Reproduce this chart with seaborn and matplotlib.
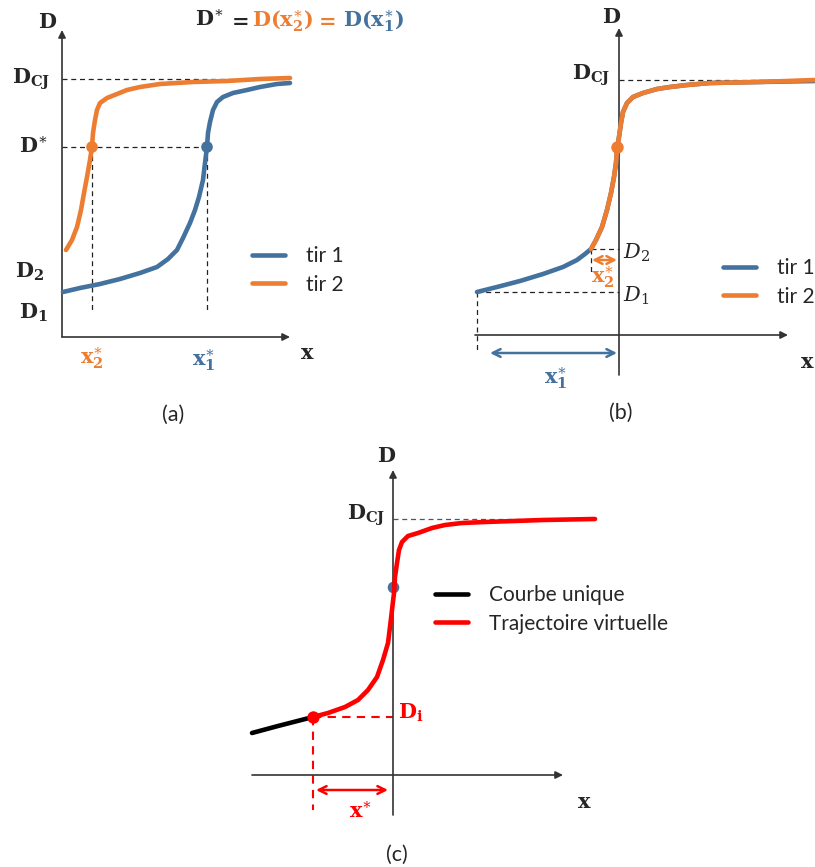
import matplotlib
matplotlib.use("Agg")
import matplotlib.pyplot as plt
from matplotlib.lines import Line2D
import seaborn as sns

sns.set_theme(style="white")
plt.rcParams["mathtext.fontset"] = "dejavuserif"
plt.rcParams["font.family"] = ["Lato", "DejaVu Sans"]

BLUE = "#44729F"
ORANGE = "#ED7D31"
RED = "#FF0000"
GUIDE = "#222222"

# ---- panel (a): two shots, x relative to the origin, D above the x axis
a_tir1_x = [1, 18, 38, 58, 78, 95, 106, 115, 121, 128, 133, 137, 141, 143, 145, 146, 148,
            151, 155, 161, 171, 185, 198, 215, 228]
a_tir1_d = [45, 49, 53, 58, 64, 70, 78, 87, 99, 114, 127, 140, 157, 174, 190, 204, 215,
            227, 235, 240, 244, 247, 250, 253, 254]
a_tir2_x = [4, 10, 15, 19, 22, 25, 28, 30, 31, 33, 35, 38, 45, 55, 65, 78, 98, 131, 165, 198, 228]
a_tir2_d = [87, 97, 110, 127, 144, 160, 177, 190, 204, 217, 227, 234, 239, 243, 247, 250, 253,
            255, 256, 258, 259]
a_dcj, a_dstar = 258, 190
a_x2star, a_x1star = 30, 145
a_d1, a_d2 = 24, 67

# ---- panel (b): curves shifted so that D* sits on x = 0
b_tir1_x = [-142, -122, -99, -76, -56, -42, -34, -28, -23, -17, -12, -8, -5, -3, -2, 0, 2, 4,
            8, 14, 24, 38, 51, 68, 91, 140, 196]
b_tir1_d = [43, 48, 54, 61, 68, 75, 81, 86, 95, 108, 125, 142, 158, 172, 185, 198, 212, 223,
            232, 238, 242, 246, 248, 250, 252, 253, 254]
b_tir2_x = [-28, -23, -17, -12, -8, -5, -3, -2, 0, 2, 4, 8, 14, 24, 38, 51, 68, 91, 140, 196]
b_tir2_d = [86, 95, 108, 125, 142, 158, 172, 185, 198, 212, 223, 232, 238, 242, 246, 248, 250,
            252, 253, 255]
b_dcj, b_d1, b_d2, b_dstar = 255, 43, 86, 188
b_x1, b_x2 = -142, -28

# ---- panel (c): single curve and virtual trajectory
c_unique_x = [-141, -115, -80]
c_unique_d = [42, 49, 58]
c_virt_x = [-80, -65, -48, -35, -25, -16, -10, -5, -3, -1, 1, 2, 4, 6, 9, 15, 25, 39, 52, 69,
            92, 150, 202]
c_virt_d = [58, 62, 68, 75, 85, 98, 115, 132, 148, 165, 182, 198, 212, 225, 233, 239, 242, 247,
            250, 252, 253, 255, 256]
c_dcj, c_di, c_xstar, c_dstar = 256, 58, -80, 188

W, H = 815, 867
fig = plt.figure(figsize=(W / 100, H / 100), dpi=100)


def panel(left, top, w, h, ox, oy):
    ax = fig.add_axes([left / W, 1 - (top + h) / H, w / W, h / H])
    ax.set_xlim(left - ox, left + w - ox)
    ax.set_ylim(oy - top - h, oy - top)
    ax.axis("off")
    return ax


def axes_arrows(ax, x0, x1, y0, y1):
    kw = dict(arrowstyle="-|>", color="#333333", lw=1.2, mutation_scale=11, shrinkA=0, shrinkB=0)
    ax.annotate("", xy=(x1, 0), xytext=(x0, 0), arrowprops=kw)
    ax.annotate("", xy=(0, y1), xytext=(0, y0), arrowprops=kw)


def double_arrow(ax, xa, xb, y, color):
    ax.annotate("", xy=(xb, y), xytext=(xa, y),
                arrowprops=dict(arrowstyle="<->", color=color, lw=1.8, mutation_scale=14,
                                shrinkA=0, shrinkB=0))


def guide(ax, xs, ys, color=GUIDE, lw=0.9):
    ax.plot(xs, ys, ls=(0, (4, 3)), color=color, lw=lw, zorder=1)


def curve(ax, xs, ys, color):
    sns.lineplot(x=xs, y=ys, sort=False, color=color, lw=LW, ax=ax, zorder=3,
                 solid_capstyle="round", solid_joinstyle="round")


def bold(s):
    return "$" + s + "$"


LW = 3.3
BF = 15
CAP = 15.5
LEG = dict(frameon=False, fontsize=15, handlelength=1.6, handletextpad=1.0,
           labelspacing=0.42, borderpad=0, borderaxespad=0, loc="upper left")

# ================= (a)
ax = panel(0, 0, 410, 430, 62, 337)
axes_arrows(ax, 0, 228, 0, 307)
guide(ax, [0, 228], [a_dcj, a_dcj])
guide(ax, [0, a_x1star], [a_dstar, a_dstar])
guide(ax, [a_x2star, a_x2star], [a_dstar, 27])
guide(ax, [a_x1star, a_x1star], [a_dstar, 24])
curve(ax, a_tir1_x, a_tir1_d, BLUE)
curve(ax, a_tir2_x, a_tir2_d, ORANGE)
sns.scatterplot(x=[a_x2star, a_x1star], y=[a_dstar, a_dstar], hue=["o", "b"],
                palette={"o": ORANGE, "b": BLUE}, s=70, linewidth=0, legend=False, ax=ax, zorder=4)
ax.text(-14, 315, bold(r"\mathbf{D}"), fontsize=BF, ha="center", va="center")
ax.text(-12, a_dcj, bold(r"\mathbf{D}_{\mathbf{CJ}}"), fontsize=BF, ha="right", va="center")
ax.text(-14, a_dstar, bold(r"\mathbf{D}^{\ast}"), fontsize=BF, ha="right", va="center")
ax.text(-18, a_d2 - 2, bold(r"\mathbf{D}_{\mathbf{2}}"), fontsize=BF, ha="right", va="center")
ax.text(-14, a_d1, bold(r"\mathbf{D}_{\mathbf{1}}"), fontsize=BF, ha="right", va="center")
ax.text(a_x2star, -21, bold(r"\mathbf{x}_{\mathbf{2}}^{\ast}"), fontsize=BF, color=ORANGE, ha="center", va="center")
ax.text(a_x1star - 3, -23, bold(r"\mathbf{x}_{\mathbf{1}}^{\ast}"), fontsize=BF, color=BLUE, ha="center", va="center")
ax.text(245, -16, bold(r"\mathbf{x}"), fontsize=BF, ha="center", va="center")
# formula above the panel, one piece per colour
ax.text(133, 311, bold(r"\mathbf{D}^{\ast}"), fontsize=BF, ha="left", va="baseline")
ax.text(166, 311, bold(r"\mathbf{=}"), fontsize=BF, ha="left", va="baseline")
ax.text(190, 311, bold(r"\mathbf{D(x}_{\mathbf{2}}^{\ast}\mathbf{)}"), fontsize=BF, color=ORANGE, ha="left", va="baseline")
ax.text(253, 311, bold(r"\mathbf{=}"), fontsize=BF, color=ORANGE, ha="left", va="baseline")
ax.text(281, 311, bold(r"\mathbf{D(x}_{\mathbf{1}}^{\ast}\mathbf{)}"), fontsize=BF, color=BLUE, ha="left", va="baseline")
ax.text(111, -78, "(a)", fontsize=CAP, ha="center", va="center")
ax.legend([Line2D([], [], color=BLUE, lw=LW), Line2D([], [], color=ORANGE, lw=LW)],
          ["tir 1", "tir 2"], bbox_to_anchor=(190, 91), bbox_transform=ax.transData, **LEG)

# ================= (b)
ax = panel(420, 0, 395, 430, 619, 335)
axes_arrows(ax, -144, 169, -40, 307)
guide(ax, [0, 196], [b_dcj, b_dcj])
guide(ax, [b_x2, 0], [b_d2, b_d2])
guide(ax, [b_x1, 0], [b_d1, b_d1])
guide(ax, [b_x1, b_x1], [b_d1, -17])
guide(ax, [b_x2, b_x2], [b_d2, 63])
curve(ax, b_tir1_x, b_tir1_d, BLUE)
curve(ax, b_tir2_x, b_tir2_d, ORANGE)
sns.scatterplot(x=[-2], y=[b_dstar], color=ORANGE, s=80, linewidth=0, ax=ax, zorder=4)
double_arrow(ax, b_x2 + 1, -2, 75, ORANGE)
double_arrow(ax, b_x1 + 13, -2, -18, BLUE)
ax.text(-7, 318, bold(r"\mathbf{D}"), fontsize=BF, ha="center", va="center")
ax.text(-9, 260, bold(r"\mathbf{D}_{\mathbf{CJ}}"), fontsize=BF, ha="right", va="center")
ax.text(4, 82, r"$D_2$", fontsize=BF, ha="left", va="center")
ax.text(4, 39, r"$D_1$", fontsize=BF, ha="left", va="center")
ax.text(-16, 58, bold(r"\mathbf{x}_{\mathbf{2}}^{\ast}"), fontsize=BF, color=ORANGE, ha="center", va="center")
ax.text(-63, -43, bold(r"\mathbf{x}_{\mathbf{1}}^{\ast}"), fontsize=BF, color=BLUE, ha="center", va="center")
ax.text(188, -27, bold(r"\mathbf{x}"), fontsize=BF, ha="center", va="center")
ax.text(2, -78, "(b)", fontsize=CAP, ha="center", va="center")
ax.legend([Line2D([], [], color=BLUE, lw=LW), Line2D([], [], color=ORANGE, lw=LW)],
          ["tir 1", "tir 2"], bbox_to_anchor=(104, 77), bbox_transform=ax.transData, **LEG)

# ================= (c)
ax = panel(230, 430, 400, 437, 393, 775)
axes_arrows(ax, -141, 170, -40, 305)
guide(ax, [0, 202], [c_dcj, c_dcj], color="#555555")
guide(ax, [c_xstar, 0], [c_di, c_di], color=RED, lw=1.5)
guide(ax, [c_xstar, c_xstar], [c_di, -35], color=RED, lw=1.5)
curve(ax, c_unique_x, c_unique_d, "black")
curve(ax, c_virt_x, c_virt_d, RED)
sns.scatterplot(x=[c_xstar], y=[c_di], color=RED, s=80, linewidth=0, ax=ax, zorder=4)
sns.scatterplot(x=[0], y=[c_dstar], color=BLUE, s=70, linewidth=0, ax=ax, zorder=2)
double_arrow(ax, c_xstar + 3, -5, -15, RED)
ax.text(-6, 319, bold(r"\mathbf{D}"), fontsize=BF, ha="center", va="center")
ax.text(-8, 260, bold(r"\mathbf{D}_{\mathbf{CJ}}"), fontsize=BF, ha="right", va="center")
ax.text(5, 62, bold(r"\mathbf{D}_{\mathbf{i}}"), fontsize=BF, color=RED, ha="left", va="center")
ax.text(-33, -37, bold(r"\mathbf{x}^{\ast}"), fontsize=BF, color=RED, ha="center", va="center")
ax.text(191, -27, bold(r"\mathbf{x}"), fontsize=BF, ha="center", va="center")
ax.text(4, -80, "(c)", fontsize=CAP, ha="center", va="center")
ax.legend([Line2D([], [], color="black", lw=LW), Line2D([], [], color=RED, lw=LW)],
          ["Courbe unique", "Trajectoire virtuelle"], bbox_to_anchor=(42, 190),
          bbox_transform=ax.transData, **LEG)

fig.savefig("out.png", dpi=100)
